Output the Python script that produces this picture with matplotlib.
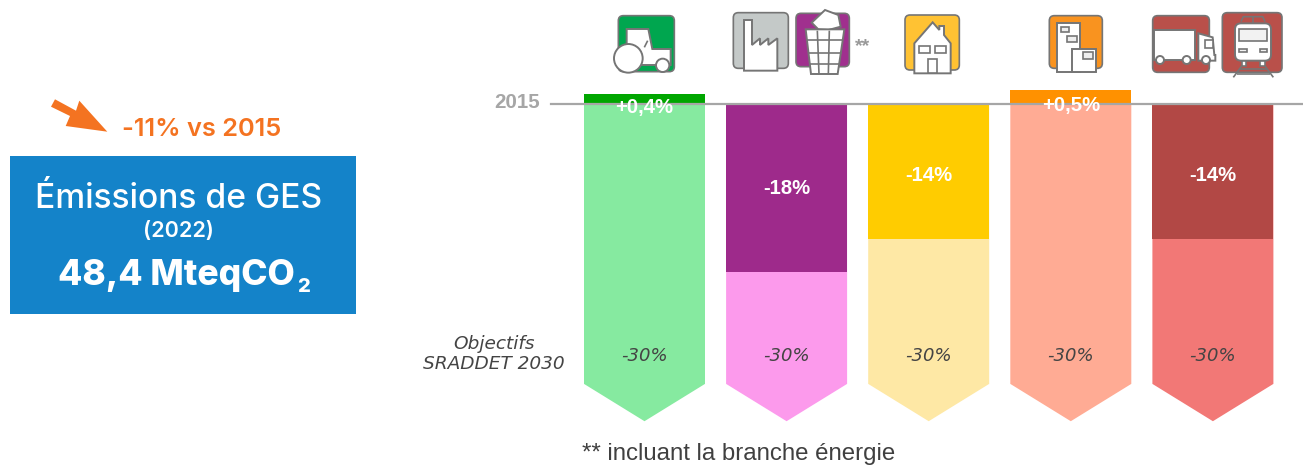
import matplotlib
matplotlib.use("Agg")
import matplotlib.pyplot as plt
from matplotlib.patches import Polygon, Rectangle, Circle, FancyBboxPatch

# percent labels and values
sector_labels = ["+0,4%", "-18%", "-14%", "+0,5%", "-14%"]
target_labels = ["-30%", "-30%", "-30%", "-30%", "-30%"]
# drawn height of the coloured part (the source graphic is not strictly to scale)
drawn_change = [1.07, -18.0, -14.5, 1.5, -14.5]
target_change = [-30, -30, -30, -30, -30]
dark_colors = ["#00A600", "#9E2A8B", "#FFCC00", "#FF9100", "#B24845"]
light_colors = ["#86EAA0", "#FC9AEC", "#FEE8A5", "#FFAB94", "#F27876"]

W, H = 1303, 466
ICON_EDGE = "#757575"

fig = plt.figure(figsize=(W / 100, H / 100), dpi=100)
fig.patch.set_facecolor("white")

# chart axes: x = sector index, y = percent vs 2015
ax = fig.add_axes([0, 0, 1, 1])
step, x0, y0, unit = 142.1, 644.5, 104.0, 9.33
ax.set_xlim(-x0 / step, (W - x0) / step)
ax.set_ylim((y0 - H) / unit, y0 / unit)
ax.axis("off")

bar_w = 121 / step
tip = 4.0
for i in range(len(drawn_change)):
    l, r = i - bar_w / 2, i + bar_w / 2
    t = target_change[i]
    ax.fill([l, r, r, i, l], [0, 0, t, t - tip, t], color=light_colors[i], lw=0, zorder=1)
    ax.bar(i, drawn_change[i], width=bar_w, color=dark_colors[i], lw=0, zorder=2)
    if drawn_change[i] > 0:
        ylab = -0.15 if i == 3 else -0.35
    else:
        ylab = drawn_change[i] / 2 - 0.4 if i != 1 else drawn_change[i] / 2 - 0.1
    ax.text(i, ylab, sector_labels[i], ha="center", va="center", color="white",
            fontsize=14.6, fontweight="bold", family="Liberation Sans", zorder=5)
    ax.text(i, t + 2.95, target_labels[i], ha="center", va="center", color="#444444",
            fontsize=13, style="italic", family="DejaVu Sans", zorder=5)

ax.plot([(551 - x0) / step, (W - x0) / step], [0, 0], color="#A6A6A6", lw=1.6, zorder=4)
ax.text((540 - x0) / step, 0.2, "2015", ha="right", va="center", color="#A6A6A6",
        fontsize=14.8, fontweight="bold", family="Liberation Sans")
ax.text((494 - x0) / step, -26.8, "Objectifs\nSRADDET 2030", ha="center", va="center",
        color="#444444", fontsize=13.3, style="italic", family="DejaVu Sans", linespacing=1.15)

# overlay in pixel coordinates for the info box and the icons
px = fig.add_axes([0, 0, 1, 1])
px.set_xlim(0, W)
px.set_ylim(H, 0)
px.axis("off")
px.patch.set_alpha(0)


def z(ox, pts):
    # points measured on 3x crops of the icon row
    return [(ox + a / 3, b / 3) for a, b in pts]


def tile(ox, x1, y1, x2, y2, color):
    a, b = z(ox, [(x1, y1), (x2, y2)])
    px.add_patch(FancyBboxPatch(a, b[0] - a[0], b[1] - a[1], boxstyle="round,pad=0,rounding_size=5",
                                fc=color, ec=ICON_EDGE, lw=1.2))


def poly(ox, pts, fc="white", lw=1.4):
    px.add_patch(Polygon(z(ox, pts), closed=True, fc=fc, ec=ICON_EDGE, lw=lw, joinstyle="miter"))


def box(ox, x1, y1, x2, y2, fc="white", lw=1.2):
    poly(ox, [(x1, y1), (x2, y1), (x2, y2), (x1, y2)], fc, lw)


def disc(ox, x, y, r):
    c = z(ox, [(x, y)])[0]
    px.add_patch(Circle(c, r / 3, fc="white", ec=ICON_EDGE, lw=1.4, zorder=3))


def seg(ox, pts, lw=1.2):
    p = z(ox, pts)
    px.plot([q[0] for q in p], [q[1] for q in p], color=ICON_EDGE, lw=lw, solid_capstyle="butt")


A, B = 580, 980
# tractor
tile(A, 115, 47, 283, 215, "#00A64F")
poly(A, [(140, 87), (205, 87), (217, 147), (272, 147), (272, 195), (140, 195)])
seg(A, [(203, 122), (193, 142)])
disc(A, 145, 175, 43)
disc(A, 248, 196, 20)
# factory
tile(A, 460, 38, 625, 205, "#C4C9C8")
poly(A, [(492, 60), (516, 60), (516, 135), (540, 115), (540, 135), (565, 115), (565, 135),
         (592, 115), (592, 212), (492, 212)])
# bin
tile(A, 648, 40, 808, 200, "#A0308E")
poly(A, [(695, 68), (735, 30), (775, 45), (782, 80), (745, 90), (715, 88)])
poly(A, [(677, 88), (793, 88), (773, 222), (693, 222)])
for a, b in [(712, 717), (748, 745)]:
    seg(A, [(a, 92), (b, 222)])
seg(A, [(680, 120), (790, 120)])
seg(A, [(684, 158), (785, 158)])
seg(A, [(688, 192), (779, 192)])
px.text(863, 47, "**", ha="center", va="center", color="#999999", fontsize=14,
        fontweight="bold", family="Liberation Sans")
# house
tile(A, 975, 45, 1138, 210, "#FFC233")
poly(A, [(1003, 130), (1058, 67), (1078, 90), (1078, 78), (1092, 78), (1092, 105), (1112, 130),
         (1112, 220), (1003, 220)])
box(A, 1018, 138, 1050, 158)
box(A, 1065, 138, 1097, 158)
box(A, 1043, 178, 1070, 220)
# buildings
tile(B, 208, 47, 367, 205, "#F9931F")
box(B, 232, 68, 300, 217, lw=1.4)
box(B, 275, 147, 349, 217, lw=1.4)
box(B, 242, 80, 268, 96, "#EEEEEE")
box(B, 262, 107, 290, 125, "#EEEEEE")
box(B, 310, 157, 338, 176, "#EEEEEE")
# truck
tile(B, 518, 47, 688, 217, "#B9504A")
box(B, 522, 90, 645, 180, lw=1.4)
poly(B, [(655, 100), (698, 112), (703, 165), (706, 165), (706, 182), (655, 182)])
box(B, 675, 120, 698, 143)
for cx in (540, 620, 678):
    disc(B, cx, 180, 12)
# train
tile(B, 727, 38, 906, 217, "#B9504A")
seg(B, [(783, 65), (790, 50), (848, 50), (855, 65)])
seg(B, [(820, 50), (820, 68)])
a, b = z(B, [(765, 70), (873, 182)])
px.add_patch(FancyBboxPatch(a, b[0] - a[0], b[1] - a[1], boxstyle="round,pad=0,rounding_size=6",
                            fc="white", ec=ICON_EDGE, lw=1.4))
box(B, 777, 87, 860, 123, "#F2F2F2")
box(B, 778, 147, 800, 157, "#F2F2F2")
box(B, 840, 147, 862, 157, "#F2F2F2")
box(B, 785, 182, 799, 198)
box(B, 841, 182, 855, 198)
seg(B, [(785, 198), (760, 232)])
seg(B, [(855, 198), (880, 232)])
seg(B, [(778, 208), (862, 208)])
seg(B, [(770, 222), (870, 222)])

# arrow and info box
px.add_patch(Polygon([(55, 99.3), (76, 110.7), (79.3, 100.7), (107.3, 131.7), (65.7, 126),
                      (70, 116), (51, 106.7)], closed=True, fc="#F47321", ec="none"))
px.text(202, 130, "-11% vs 2015", ha="center", va="center", color="#F47321",
        fontsize=18.3, fontweight="semibold", family="Inter")
px.add_patch(Rectangle((10, 156), 346, 158, fc="#1483C9", ec="none"))
px.text(179, 199, "Émissions de GES", ha="center", va="center", color="white",
        fontsize=24.2, fontweight="medium", family="Inter")
px.text(178, 231, "(2022)", ha="center", va="center", color="white",
        fontsize=15.5, fontweight="semibold", family="Inter")
px.text(58, 275, "48,4 MteqCO", ha="left", va="center", color="white",
        fontsize=25.5, fontweight="heavy", family="Inter")
px.text(304, 287, "2", ha="center", va="center", color="white",
        fontsize=14.5, fontweight="heavy", family="Inter")
px.text(582, 454, "** incluant la branche énergie", ha="left", va="center", color="#404040",
        fontsize=17.3, family="Liberation Sans")

fig.savefig("out.png", dpi=100)
